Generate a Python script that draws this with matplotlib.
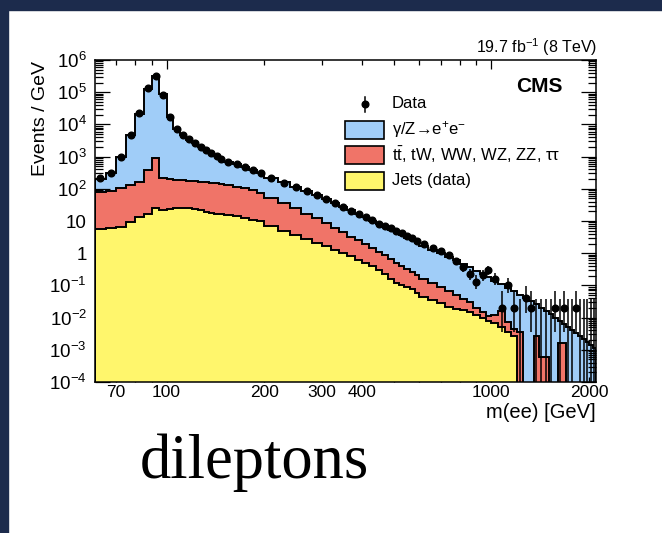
import numpy as np
import matplotlib
matplotlib.use("Agg")
import matplotlib.pyplot as plt
from matplotlib.patches import Rectangle
from matplotlib.lines import Line2D
from matplotlib.ticker import FixedLocator, FixedFormatter, NullFormatter, LogLocator

plt.rcParams['font.family'] = ['Liberation Sans', 'DejaVu Sans']
plt.rcParams['mathtext.fontset'] = 'custom'
plt.rcParams['mathtext.rm'] = 'Liberation Sans'
plt.rcParams['mathtext.it'] = 'Liberation Sans:italic'
plt.rcParams['mathtext.bf'] = 'Liberation Sans:bold'

# ---------------- data ----------------
bin_edges = [60, 65, 70, 75, 80, 85, 90, 95, 100, 105, 110, 115, 120, 125, 130, 135, 140, 145, 150,
             160, 170, 180, 190, 200,
             220, 240, 260, 280, 300, 320, 340, 360, 380, 400, 420, 440, 460, 480, 500, 520, 540, 560, 580, 600,
             640, 680, 720, 760, 800, 840, 880, 920, 960, 1000,
             1050, 1100, 1150, 1200, 1250, 1300, 1350, 1400, 1450, 1500, 1550, 1600, 1650, 1700, 1750, 1800,
             1850, 1900, 1950, 2000, 2050, 2100]

# observed data, events / GeV
data_per_gev = [214, 302, 1000, 4700, 22000, 132000, 320000, 83000, 17500, 7200, 4700, 3400, 2600, 2000,
                1600, 1280, 1020, 840,
                700, 580, 480, 390, 320,
                215, 155, 112, 84, 65, 48, 37, 28, 21, 16, 13.5, 10.5, 8.2, 6.9, 5.9, 5.0, 4.2, 3.5, 2.9, 2.4,
                1.9, 1.5, 1.2, 0.87, 0.56, 0.36, 0.22, 0.13, 0.21, 0.30,
                0.16, 0.02, 0.10, 0.02, 0, 0.04, 0.02, 0, 0, 0, 0, 0.02, 0, 0.02, 0, 0, 0.02, 0, 0, 0, 0, 0]

# Jets (data-driven) background, events / GeV
jets = [5.8, 6.0, 6.7, 9.6, 13, 17, 25, 22, 23, 25, 25, 25, 23, 22, 19, 17.5, 16.5, 16,
        15, 14, 12.5, 11, 10,
        7.0, 5.0, 3.6, 2.8, 2.1, 1.7, 1.3, 1.0, 0.8, 0.6, 0.5, 0.4, 0.3, 0.22, 0.16, 0.12, 0.105, 0.09,
        0.075, 0.06,
        0.045, 0.036, 0.028, 0.022, 0.019, 0.017, 0.015, 0.012, 0.010, 0.008,
        0.0067, 0.005, 0.0035, 0.0026, 0, 0, 0, 0, 0, 0, 0, 0, 0, 0, 0, 0, 0, 0, 0, 0, 0, 0]

# ttbar, tW, WW, WZ, ZZ, tautau, events / GeV
ttbar_other = [76, 78, 98, 122, 154, 373, 865, 192, 177, 167, 161, 155, 151, 146, 143, 138.5, 134.5, 130,
               115, 103, 91.5, 79, 65,
               45, 31, 21.4, 14.2, 9.9, 6.8, 4.7, 3.5, 2.5, 1.9, 1.4, 1.05, 0.8, 0.63, 0.5, 0.38, 0.295,
               0.23, 0.185, 0.15,
               0.115, 0.084, 0.062, 0.043, 0.031, 0.021, 0.015, 0.008, 0.005, 0.003,
               0.0053, 0.011, 0.004, 0.0019, 0.0037, 0, 0, 0.0026, 0.0006, 0.0006, 0, 0, 0.0016, 0.0016,
               0, 0, 0, 0, 0, 0, 0, 0]

# gamma/Z -> ee, events / GeV
dy_ee = [123, 216, 875, 4468, 20833, 129610, 314110, 84786, 16800, 7108, 4414, 3170, 2426, 1832, 1438,
         1134, 889, 704,
         570, 463, 371, 295, 240,
         163, 121, 88, 66, 51, 39.5, 31, 23.5, 18.2, 14, 11.1, 8.85, 7.1, 5.75, 4.74, 3.9, 3.2, 2.68,
         2.24, 1.89,
         1.54, 1.18, 0.91, 0.715, 0.55, 0.432, 0.34, 0.27, 0.215, 0.169,
         0.128, 0.094, 0.0775, 0.0625, 0.0483, 0.041, 0.032, 0.0234, 0.0194, 0.0154, 0.013, 0.010,
         0.0064, 0.0049, 0.0052, 0.0042, 0.0034, 0.0027, 0.0022, 0.0018, 0.0014, 0.0011]

x_ticks_major = [100, 1000]
x_ticks_minor = [70, 80, 90, 200, 300, 400, 500, 600, 700, 800, 900, 2000]
x_minor_labels = ['70', '', '', '200', '300', '400', '', '', '', '', '', '2000']
y_decades = [1e-4, 1e-3, 1e-2, 1e-1, 1, 10, 1e2, 1e3, 1e4, 1e5, 1e6]
y_labels = [r'$\mathregular{10^{-4}}$', r'$\mathregular{10^{-3}}$', r'$\mathregular{10^{-2}}$',
            r'$\mathregular{10^{-1}}$', '1', '10', r'$\mathregular{10^{2}}$', r'$\mathregular{10^{3}}$',
            r'$\mathregular{10^{4}}$', r'$\mathregular{10^{5}}$', r'$\mathregular{10^{6}}$']

# Garwood Poisson intervals for small counts
garwood_low = [0, 0.173, 0.708, 1.367, 2.086, 2.840, 3.620, 4.419, 5.232, 6.057]
garwood_high = [1.841, 3.300, 4.638, 5.918, 7.163, 8.382, 9.584, 10.77, 11.95, 13.11]

# ---------------- figure ----------------
W, H = 662, 533
fig = plt.figure(figsize=(W / 100, H / 100), dpi=100)
fig.patch.set_facecolor('white')

def fx(x):
    return x / W

def fy(y):
    return 1 - y / H

# slide background edges
fig.add_artist(Rectangle((0, 0), fx(8), 1, transform=fig.transFigure, color='#1c2b4c', zorder=0))
fig.add_artist(Rectangle((0, fy(10)), 1, 10 / H, transform=fig.transFigure, color='#1c2b4c', zorder=0))

ax_l, ax_r, ax_t, ax_b = 94.5, 596, 60, 382
ax = fig.add_axes([fx(ax_l), fy(ax_b), (ax_r - ax_l) / W, (ax_b - ax_t) / H])
ax.set_xscale('log')
ax.set_yscale('log')

edges = np.array(bin_edges, dtype=float)
widths = np.diff(edges)
centers = 0.5 * (edges[:-1] + edges[1:])
j = np.array(jets, float)
t = np.array(ttbar_other, float)
d = np.array(dy_ee, float)
data = np.array(data_per_gev, float)

BLUE = '#A0CDF8'
RED = '#F07468'
YEL = '#FFF66C'
tiny = 1e-9
stack = [(j + t + d, BLUE), (j + t, RED), (j, YEL)]
for k, (vals, col) in enumerate(stack):
    v = np.where(vals > 0, vals, tiny)
    ax.stairs(v, edges, baseline=tiny, fill=True, color=col, zorder=1 + k, linewidth=0)
    ax.stairs(v, edges, baseline=tiny, fill=False, color='black', zorder=1 + k, linewidth=1.4)

# data
counts = np.round(data * widths).astype(int)
has = counts > 0
lo = []
hi = []
for n in counts[has]:
    if n < len(garwood_low):
        lo.append(n - garwood_low[n])
        hi.append(garwood_high[n] - n)
    else:
        lo.append(np.sqrt(n))
        hi.append(np.sqrt(n))
w_has = widths[has]
ax.errorbar(centers[has], data[has], yerr=[np.array(lo) / w_has, np.array(hi) / w_has],
            fmt='o', color='black', ms=4.8, elinewidth=1.1, capsize=0, zorder=10)
zero = counts == 0
ax.vlines(centers[zero], tiny, garwood_high[0] / widths[zero], color='black', lw=1.1, zorder=10)

ax.set_xlim(60, 2100)
ax.set_ylim(1e-4, 1e6)

ax.xaxis.set_major_locator(FixedLocator(x_ticks_major))
ax.xaxis.set_major_formatter(FixedFormatter(['100', '1000']))
ax.xaxis.set_minor_locator(FixedLocator(x_ticks_minor))
ax.xaxis.set_minor_formatter(FixedFormatter(x_minor_labels))
ax.yaxis.set_major_locator(FixedLocator(y_decades))
ax.yaxis.set_major_formatter(FixedFormatter(y_labels))
ax.yaxis.set_minor_locator(LogLocator(base=10, subs=np.arange(2, 10), numticks=50))
ax.yaxis.set_minor_formatter(NullFormatter())

ax.tick_params(which='both', direction='in', top=True, right=True, width=0.9, colors='black')
ax.tick_params(axis='x', which='major', length=6.7, labelsize=12.5, pad=2.5)
ax.tick_params(axis='x', which='minor', length=3.6, labelsize=12.5, pad=2.5)
ax.tick_params(axis='y', which='major', length=11, labelsize=13.5, pad=5.5)
ax.tick_params(axis='y', which='minor', length=5.8)
for s in ax.spines.values():
    s.set_linewidth(1.1)
    s.set_zorder(20)

# axis titles
fig.text(fx(40.5), fy(61), 'Events / GeV', rotation=90, ha='center', va='top', fontsize=14)
fig.text(fx(596), fy(403), 'm(ee) [GeV]', ha='right', va='top', fontsize=14.5)
fig.text(fx(597), fy(53), r'19.7 fb$^{-1}$ (8 TeV)', ha='right', va='baseline', fontsize=11.5)
fig.text(fx(563), fy(91.5), 'CMS', ha='right', va='baseline', fontsize=15, fontweight='bold')

# legend
fig.add_artist(Line2D([fx(364.5), fx(364.5)], [fy(96.5), fy(111.5)], transform=fig.transFigure,
                      color='black', lw=1.1))
fig.add_artist(Line2D([fx(364.5)], [fy(103.5)], transform=fig.transFigure, marker='o', ms=4.8,
                      color='black', lw=0))
leg_rows = [(130, BLUE, r'γ/Z→e$^{+}$e$^{-}$'),
            (155, RED, r't$\bar{\mathrm{t}}$, tW, WW, WZ, ZZ, ττ'),
            (181, YEL, 'Jets (data)')]
for yc, col, lab in leg_rows:
    fig.add_artist(Rectangle((fx(345), fy(yc + 9.3)), 39 / W, 18.6 / H, transform=fig.transFigure,
                             facecolor=col, edgecolor='black', lw=1.2))
    fig.text(fx(391.5), fy(yc), lab, ha='left', va='center', fontsize=12)
fig.text(fx(391.5), fy(103.5), 'Data', ha='left', va='center', fontsize=12)

fig.text(fx(140), fy(478), 'dileptons', family=['Liberation Serif', 'DejaVu Serif'], fontsize=45,
         ha='left', va='baseline')

fig.savefig('out.png', dpi=100, facecolor='white')
